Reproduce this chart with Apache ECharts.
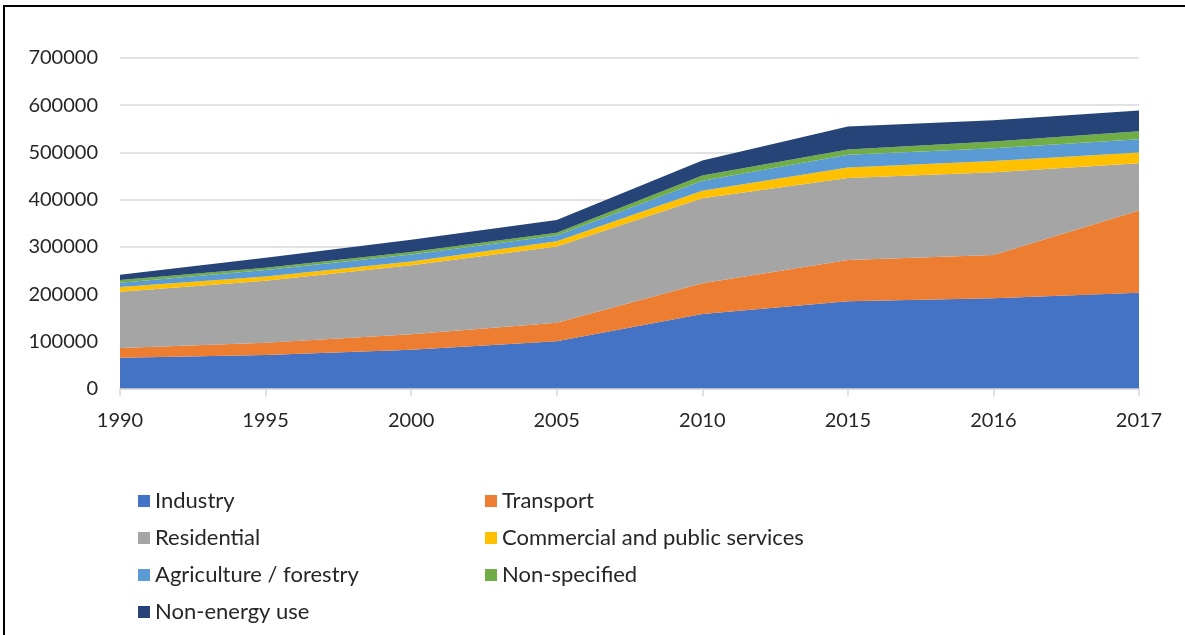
<!DOCTYPE html>
<html>
<head>
<meta charset="utf-8">
<script src="https://cdn.jsdelivr.net/npm/echarts@6/dist/echarts.min.js"></script>
<style>
  html, body { margin: 0; padding: 0; background: #fff; }
  #chart { width: 1185px; height: 635px; }
</style>
</head>
<body>
<div id="chart"></div>
<script>
// categories and values
const years = ["1990", "1995", "2000", "2005", "2010", "2015", "2016", "2017"];
const industry = [65000, 71000, 82000, 100000, 158000, 185000, 191000, 203000];
const transport = [21000, 26000, 33000, 39000, 65000, 87000, 92000, 174000];
const residential = [119000, 131000, 146000, 162000, 180000, 174000, 175000, 100000];
const commercial = [10000, 9000, 8000, 11000, 16000, 22000, 24000, 23000];
const agriculture = [9000, 14000, 15000, 12000, 21000, 27000, 27000, 28000];
const nonSpecified = [6000, 5000, 5000, 6000, 11000, 11000, 14000, 17000];
const nonEnergy = [11000, 21000, 26000, 27000, 32000, 49000, 45000, 44000];

const seriesNames = [
  "Industry", "Transport", "Residential", "Commercial and public services",
  "Agriculture / forestry", "Non-specified", "Non-energy use"
];
const seriesData = [industry, transport, residential, commercial, agriculture, nonSpecified, nonEnergy];
const colors = ["#4472C4", "#ED7D31", "#A5A5A5", "#FFC000", "#5B9BD5", "#70AD47", "#264478"];

const font = "Lato";
const textColor = "#262626";

let myChart = echarts.init(document.getElementById("chart"));

let series = [];
for (let i = 0; i < seriesNames.length; i++) {
  series.push({
    name: seriesNames[i],
    type: "line",
    stack: "total",
    data: seriesData[i],
    symbol: "none",
    lineStyle: { width: 0 },
    areaStyle: { color: colors[i], opacity: 1 },
    itemStyle: { color: colors[i] }
  });
}

const legendCommon = {
  orient: "vertical",
  icon: "rect",
  itemWidth: 12,
  itemHeight: 12,
  itemGap: 15,
  textStyle: { fontFamily: font, fontSize: 22, color: textColor, lineHeight: 22 },
  selectedMode: false
};

let option = {
  animation: false,
  color: colors,
  grid: { left: 120, right: 46, top: 58, bottom: 246.5 },
  xAxis: {
    type: "category",
    data: years,
    boundaryGap: false,
    axisLine: { lineStyle: { color: "#D9D9D9", width: 1.5 } },
    axisTick: { show: true, length: 8, lineStyle: { color: "#D9D9D9", width: 1.5 } },
    axisLabel: { margin: 22, fontFamily: font, fontSize: 20, color: textColor }
  },
  yAxis: {
    type: "value",
    min: 0,
    max: 700000,
    interval: 100000,
    axisLine: { show: false },
    axisTick: { show: false },
    splitLine: { lineStyle: { color: "#D9D9D9", width: 1.5 } },
    axisLabel: {
      margin: 22, fontFamily: font, fontSize: 20, color: textColor,
      formatter: function (v) { return String(v); }
    }
  },
  legend: [
    Object.assign({}, legendCommon, {
      left: 133, top: 485,
      data: ["Industry", "Residential", "Agriculture / forestry", "Non-energy use"]
    }),
    Object.assign({}, legendCommon, {
      left: 480, top: 485,
      data: ["Transport", "Commercial and public services", "Non-specified"]
    })
  ],
  graphic: [
    {
      type: "rect",
      shape: { x: 4, y: 6, width: 1200, height: 700 },
      style: { fill: null, stroke: "#000", lineWidth: 2 },
      silent: true
    }
  ],
  series: series
};

if (option && typeof option === "object") myChart.setOption(option);
</script>
</body>
</html>
